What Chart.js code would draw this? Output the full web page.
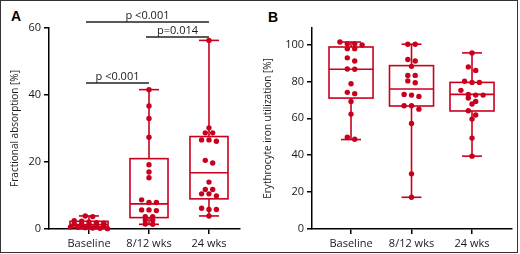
<!DOCTYPE html>
<html><head><meta charset="utf-8">
<script src="https://cdn.jsdelivr.net/npm/chart.js@4"></script>
<style>
html,body{margin:0;padding:0;background:#fff;}
#wrap{position:relative;width:520px;height:254px;overflow:hidden;background:#fff;}
#frame{position:absolute;left:0;top:0;width:518px;height:253px;box-sizing:border-box;border:1px solid #333;}
canvas{position:absolute;top:0;}
#ca{left:0;} #cb{left:260px;}
.lab{position:absolute;font:bold 14px "Liberation Sans",Arial,sans-serif;color:#000;}
</style></head><body>
<div id="wrap">
<div id="frame"></div>
<div class="lab" style="left:11px;top:8px">A</div>
<div class="lab" style="left:268px;top:9px">B</div>
<canvas id="ca" width="260" height="254"></canvas>
<canvas id="cb" width="260" height="254"></canvas>
</div>
<script>
const categories = ['Baseline', '8/12 wks', '24 wks'];

// Panel A: Fractional absorption [%]
const absBaseline = [3.9, 3.7, 2.5, 2.3, 2.1, 1.9, 1.7, 1.5, 1.3, 1.2, 1.0, 0.8, 0.6, 0.5, 0.4, 0.3, 0.2, 0.1];
const absWk812 = [41.6, 36.7, 33.0, 27.4, 19.2, 17.0, 15.3, 8.7, 7.9, 7.9, 5.7, 5.7, 5.5, 3.7, 3.7, 2.7, 2.7, 1.5, 1.4];
const absWk24 = [56.3, 30.2, 28.7, 28.7, 26.6, 26.6, 26.2, 20.5, 19.7, 14.0, 11.8, 11.8, 10.5, 10.5, 9.9, 6.2, 5.8, 5.8, 3.9];
const absMin = [0.1, 1.4, 3.9];
const absQ1 = [0.5, 3.4, 9.0];
const absMedian = [1.3, 7.5, 16.8];
const absQ3 = [2.3, 21.0, 27.6];
const absMax = [3.9, 41.6, 56.3];
const absTicks = [0, 20, 40, 60];
const absComparisons = [
  { from: 0, to: 1, level: 43.6, label: 'p <0.001' },
  { from: 0, to: 2, level: 61.8, label: 'p <0.001' },
  { from: 1, to: 2, level: 57.3, label: 'p=0.014' }
];

// Panel B: Erythrocyte iron utilization [%]
const eiuBaseline = [101.4, 100.4, 100.4, 99.8, 97.8, 97.8, 92.8, 91.1, 86.6, 86.8, 78.8, 74.1, 73.4, 69.2, 62.3, 49.8, 48.7];
const eiuWk812 = [100.2, 100.2, 91.9, 91.1, 88.2, 83.3, 83.3, 80.3, 79.3, 73.0, 72.6, 71.9, 66.8, 66.8, 65.0, 57.2, 29.9, 17.2];
const eiuWk24 = [95.5, 87.9, 86.0, 80.1, 79.5, 79.5, 75.2, 73.0, 72.6, 72.6, 71.0, 69.2, 67.8, 64.1, 61.8, 59.6, 49.3, 39.5];
const eiuMin = [48.5, 17.2, 39.5];
const eiuQ1 = [71.0, 66.7, 64.0];
const eiuMedian = [86.6, 75.9, 73.0];
const eiuQ3 = [98.7, 88.6, 79.5];
const eiuMax = [101.4, 100.2, 95.5];
const eiuTicks = [0, 20, 40, 60, 80, 100];

const RED = '#c8001e';
const TXT = '#1a1a1a';
const FONT = '"Open Sans", Lato, sans-serif';

function boxPlugin(stats, halfW, capHalf) {
  return {
    id: 'boxes',
    beforeDatasetsDraw(chart) {
      const { ctx, scales: { x, y } } = chart;
      ctx.save();
      ctx.strokeStyle = RED;
      ctx.lineWidth = 1.6;
      const py = v => y.getPixelForValue(v);
      const ln = (x1, y1, x2, y2) => { ctx.beginPath(); ctx.moveTo(x1, y1); ctx.lineTo(x2, y2); ctx.stroke(); };
      for (let i = 0; i < stats.min.length; i++) {
        const cx = x.getPixelForValue(i);
        const hw = x.getPixelForValue(i + halfW) - cx;
        const cw = x.getPixelForValue(i + capHalf) - cx;
        ctx.strokeRect(cx - hw, py(stats.q3[i]), 2 * hw, py(stats.q1[i]) - py(stats.q3[i]));
        ln(cx - hw, py(stats.med[i]), cx + hw, py(stats.med[i]));
        ln(cx, py(stats.max[i]), cx, py(stats.q3[i]));
        ln(cx, py(stats.q1[i]), cx, py(stats.min[i]));
        ln(cx - cw, py(stats.max[i]), cx + cw, py(stats.max[i]));
        ln(cx - cw, py(stats.min[i]), cx + cw, py(stats.min[i]));
      }
      ctx.restore();
    }
  };
}

function bracketPlugin(list) {
  return {
    id: 'brackets',
    afterDraw(chart) {
      const { ctx, scales: { x, y } } = chart;
      ctx.save();
      ctx.strokeStyle = '#222';
      ctx.lineWidth = 1.5;
      ctx.fillStyle = TXT;
      ctx.font = '11px ' + FONT;
      ctx.textAlign = 'center';
      ctx.textBaseline = 'alphabetic';
      list.forEach(c => {
        const x1 = x.getPixelForValue(c.from - 0.05);
        const x2 = x.getPixelForValue(c.to);
        const yy = y.getPixelForValue(c.level);
        ctx.beginPath(); ctx.moveTo(x1, yy); ctx.lineTo(x2, yy); ctx.stroke();
        ctx.fillText(c.label, (x1 + x2) / 2, yy - 3);
      });
      ctx.restore();
    }
  };
}

function swarm(groups, chart, binPx) {
  const x = chart.scales.x, y = chart.scales.y;
  const unit = x.getPixelForValue(1) - x.getPixelForValue(0);
  const gapPx = 7.4;
  const out = [];
  groups.forEach((vals, cat) => {
    const pts = vals.map(v => ({ v, p: y.getPixelForValue(v) })).sort((a, b) => a.p - b.p);
    const rows = [];
    pts.forEach(p => {
      const r = rows[rows.length - 1];
      if (r && p.p - r[0].p < binPx) r.push(p); else rows.push([p]);
    });
    rows.forEach(r => r.forEach((p, k) => out.push({ x: cat + (k - (r.length - 1) / 2) * gapPx / unit, y: p.v })));
  });
  return out;
}

function makeChart(id, c) {
  const chart = new Chart(document.getElementById(id), {
    type: 'scatter',
    data: { datasets: [{ data: [], pointRadius: 2.7, pointHoverRadius: 2.7, pointBackgroundColor: RED, pointBorderWidth: 0, clip: false }] },
    options: {
      responsive: false,
      animation: false,
      events: [],
      layout: { padding: { left: 0, top: 28, right: c.padRight, bottom: 0 } },
      plugins: { legend: { display: false }, tooltip: { enabled: false } },
      scales: {
        x: {
          type: 'linear', min: c.xMin, max: c.xMax,
          afterBuildTicks: s => { s.ticks = [0, 1, 2].map(v => ({ value: v })); },
          afterFit: s => { s.height = 25; },
          ticks: { callback: v => categories[v], font: { family: FONT, size: 11 }, color: TXT, padding: 3, autoSkip: false, maxRotation: 0 },
          grid: { drawOnChartArea: false, tickLength: 5, color: '#000', lineWidth: 1.5 },
          border: { color: '#000', width: 1.5 }
        },
        y: {
          min: 0, max: c.yMax,
          afterBuildTicks: s => { s.ticks = c.yTicks.map(v => ({ value: v })); },
          afterFit: s => { s.width = c.yWidth; },
          title: { display: true, text: c.title, font: { family: FONT, size: 10 }, color: TXT, padding: { top: c.titlePad, bottom: 0 } },
          ticks: { font: { family: FONT, size: 11 }, color: TXT, padding: 3 },
          grid: { drawOnChartArea: false, tickLength: 5, color: '#000', lineWidth: 1.5 },
          border: { color: '#000', width: 1.5 }
        }
      }
    },
    plugins: c.plugins
  });
  chart.data.datasets[0].data = swarm(c.groups, chart, c.binPx);
  chart.update('none');
  return chart;
}

makeChart('ca', {
  xMin: -0.667, xMax: 2.517, padRight: 20, yMax: 60, yTicks: absTicks, yWidth: 49,
  title: 'Fractional absorption [%]', titlePad: 9, binPx: 3.0,
  groups: [absBaseline, absWk812, absWk24],
  plugins: [
    boxPlugin({ min: absMin, q1: absQ1, med: absMedian, q3: absQ3, max: absMax }, 0.317, 0.167),
    bracketPlugin(absComparisons)
  ]
});

makeChart('cb', {
  xMin: -0.645, xMax: 2.661, padRight: 8, yMax: 109, yTicks: eiuTicks, yWidth: 52,
  title: 'Erythrocyte iron utilization [%]', titlePad: 2, binPx: 4.8,
  groups: [eiuBaseline, eiuWk812, eiuWk24],
  plugins: [
    boxPlugin({ min: eiuMin, q1: eiuQ1, med: eiuMedian, q3: eiuQ3, max: eiuMax }, 0.364, 0.165)
  ]
});
</script>
</body></html>
